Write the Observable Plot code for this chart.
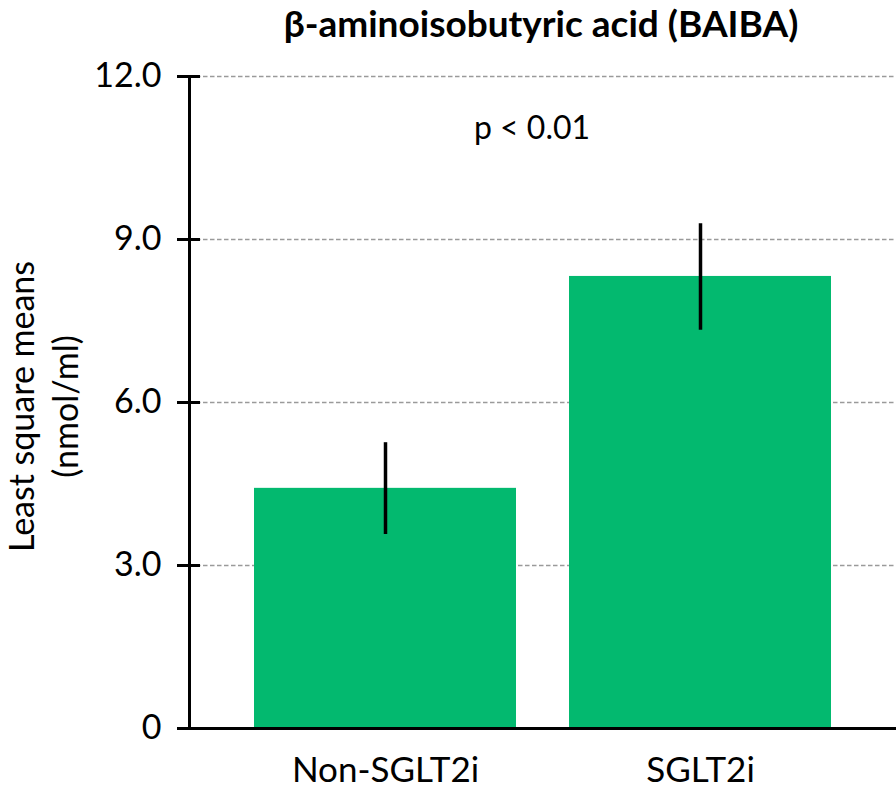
<!DOCTYPE html>
<html>
<head>
<meta charset="utf-8">
<script src="https://cdn.jsdelivr.net/npm/d3@7"></script>
<script src="https://cdn.jsdelivr.net/npm/@observablehq/plot@0.6"></script>
<style>
  html, body { margin: 0; padding: 0; background: #fff; }
  svg { display: block; }
</style>
</head>
<body>
<div id="chart"></div>
<script>
const title = "β-aminoisobutyric acid (BAIBA)";
const yLabel = "Least square means\n(nmol/ml)";
const annotation = "p < 0.01";
const groups = ["Non-SGLT2i", "SGLT2i"];
const means = [4.42, 8.32];
const lower = [3.57, 7.33];
const upper = [5.26, 9.29];
const yTicks = [0, 3, 6, 9, 12];
const yTickLabels = ["0", "3.0", "6.0", "9.0", "12.0"];

const data = groups.map((g, i) => ({group: g, mean: means[i], lo: lower[i], hi: upper[i]}));
const green = "#03b96f";
const font = "Lato, 'Open Sans', sans-serif";

const chart = Plot.plot({
  width: 896,
  height: 789,
  marginLeft: 189,
  marginRight: 0,
  marginTop: 76,
  marginBottom: 61,
  style: {fontFamily: font, color: "#000", background: "#fff"},
  x: {domain: groups, paddingInner: 0.168, paddingOuter: 0.206, label: null},
  y: {domain: [0, 12], label: null},
  marks: [
    Plot.gridY(yTicks.filter(d => d > 0), {stroke: "#9a9a9a", strokeOpacity: 1, strokeWidth: 1.5, strokeDasharray: "4.5,2.5"}),
    Plot.barY(data, {x: "group", y: "mean", fill: green}),
    Plot.ruleX(data, {x: "group", y1: "lo", y2: "hi", stroke: "#000", strokeWidth: 3.5}),
    Plot.frame({anchor: "left", stroke: "#000", strokeWidth: 3}),
    Plot.ruleY([0], {stroke: "#000", strokeWidth: 3}),
    Plot.axisY({ticks: yTicks, tickSize: 23, dx: 11, text: null, stroke: "#000", strokeWidth: 3, strokeOpacity: 1}),
    Plot.axisY({ticks: yTicks, tickSize: 0, tickPadding: 28, fontSize: 34, tickFormat: d => yTickLabels[yTicks.indexOf(d)], label: null}),
    Plot.axisX({tickSize: 0, tickPadding: 29, fontSize: 35, label: null}),
    Plot.text([annotation], {frameAnchor: "top", dx: -11, dy: 52, lineAnchor: "middle", fontSize: 32, fill: "#000"}),
    Plot.text([title], {frameAnchor: "top", dx: -2, dy: -51, lineAnchor: "middle", fontSize: 37, fontWeight: "bold", fill: "#000"}),
    Plot.text([yLabel], {frameAnchor: "left", rotate: -90, dx: -148, dy: 4, textAnchor: "middle", lineAnchor: "middle", lineHeight: 1.3, fontSize: 34, fill: "#000"})
  ]
});
document.getElementById("chart").append(chart);
</script>
</body>
</html>
